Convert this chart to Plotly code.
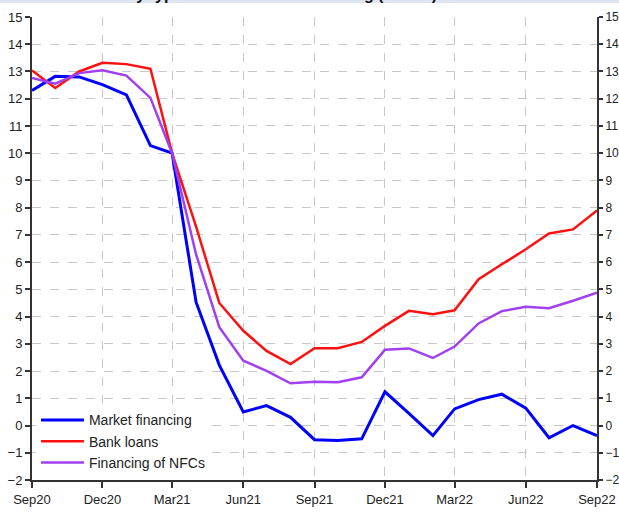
import plotly.graph_objects as go

months = ["2020-09-01","2020-10-01","2020-11-01","2020-12-01","2021-01-01","2021-02-01","2021-03-01",
          "2021-04-01","2021-05-01","2021-06-01","2021-07-01","2021-08-01","2021-09-01","2021-10-01",
          "2021-11-01","2021-12-01","2022-01-01","2022-02-01","2022-03-01","2022-04-01","2022-05-01",
          "2022-06-01","2022-07-01","2022-08-01","2022-09-01"]

market_financing = [12.3, 12.82, 12.8, 12.52, 12.14, 10.28, 10.0, 4.53, 2.22, 0.5, 0.73, 0.3, -0.52,
                    -0.55, -0.49, 1.24, 0.45, -0.37, 0.61, 0.95, 1.15, 0.64, -0.45, 0.0, -0.37]
bank_loans = [13.04, 12.39, 13.0, 13.32, 13.27, 13.1, 10.0, 7.3, 4.5, 3.48, 2.74, 2.26, 2.84,
              2.84, 3.07, 3.66, 4.21, 4.09, 4.23, 5.37, 5.92, 6.47, 7.05, 7.2, 7.9]
financing_nfcs = [12.76, 12.55, 12.94, 13.04, 12.85, 12.03, 10.0, 6.28, 3.61, 2.38, 2.01, 1.55, 1.61,
                  1.59, 1.77, 2.78, 2.83, 2.48, 2.9, 3.75, 4.2, 4.36, 4.31, 4.58, 4.88]

tick_dates = ["2020-09-01","2020-12-01","2021-03-01","2021-06-01","2021-09-01","2021-12-01",
              "2022-03-01","2022-06-01","2022-09-01"]
tick_labels = ["Sep20","Dec20","Mar21","Jun21","Sep21","Dec21","Mar22","Jun22","Sep22"]
y_ticks = list(range(-2, 16))

title_text = "NFC debt by type of instrument. Financing (YoY %)"

fig = go.Figure()
fig.add_trace(go.Scatter(x=months, y=market_financing, mode="lines", name="Market financing",
                         line=dict(color="#0000ff", width=3)))
fig.add_trace(go.Scatter(x=months, y=bank_loans, mode="lines", name="Bank loans",
                         line=dict(color="#ff1010", width=2.5)))
fig.add_trace(go.Scatter(x=months, y=financing_nfcs, mode="lines", name="Financing of NFCs",
                         line=dict(color="#a040f0", width=2.5)))
# invisible trace for right axis
fig.add_trace(go.Scatter(x=months, y=bank_loans, mode="lines", yaxis="y2", showlegend=False,
                         line=dict(width=0), hoverinfo="skip", opacity=0))

font_fam = "Liberation Sans, Arial, sans-serif"
fig.update_layout(
    width=619, height=512,
    margin=dict(l=32, r=22, t=17, b=32, autoexpand=False),
    paper_bgcolor="white", plot_bgcolor="white",
    font=dict(family=font_fam, size=13, color="#222222"),
    showlegend=True,
    legend=dict(x=0.007, y=0.0035, xanchor="left", yanchor="bottom", bgcolor="white",
                font=dict(size=14, color="#222222"), tracegroupgap=0, itemwidth=43),
    xaxis=dict(type="date", range=[tick_dates[0], tick_dates[-1]], tickvals=tick_dates,
               ticktext=tick_labels, showgrid=True, gridcolor="#c8c8c8", griddash="dash",
               gridwidth=1, showline=True, linecolor="#333333", linewidth=2,
               ticks="outside", ticklen=6, tickcolor="#333333", tickwidth=1.5,
               tickfont=dict(size=13, color="#222222"), zeroline=False),
    yaxis=dict(range=[-2, 15], tickvals=y_ticks, showgrid=True, gridcolor="#c8c8c8",
               griddash="dash", gridwidth=1, showline=True, linecolor="#333333", linewidth=2,
               ticks="outside", ticklen=5, tickcolor="#333333", tickwidth=1.5,
               tickfont=dict(size=13, color="#222222"), zeroline=False),
    yaxis2=dict(range=[-2, 15], tickvals=y_ticks, overlaying="y", side="right",
                showgrid=False, showline=True, linecolor="#333333", linewidth=2,
                ticks="outside", ticklen=4, tickcolor="#333333", tickwidth=1.5,
                tickfont=dict(size=12, color="#222222"), zeroline=False),
    shapes=[dict(type="rect", xref="paper", yref="paper", x0=-0.06, x1=1.04,
                 y0=1 + 14 / 463, y1=1 + 18 / 463, fillcolor="#dde6f0", line=dict(width=0),
                 layer="above")],
    annotations=[dict(text="<b>" + title_text + "</b>", xref="paper", yref="paper",
                      x=0.030, y=1 + 12 / 463, xanchor="left", yanchor="bottom",
                      showarrow=False, font=dict(size=16, color="#111111"))],
)

fig.write_html("out.html", config={"displayModeBar": False},
               post_script="document.body.style.margin='0';document.body.style.overflow='hidden';")
